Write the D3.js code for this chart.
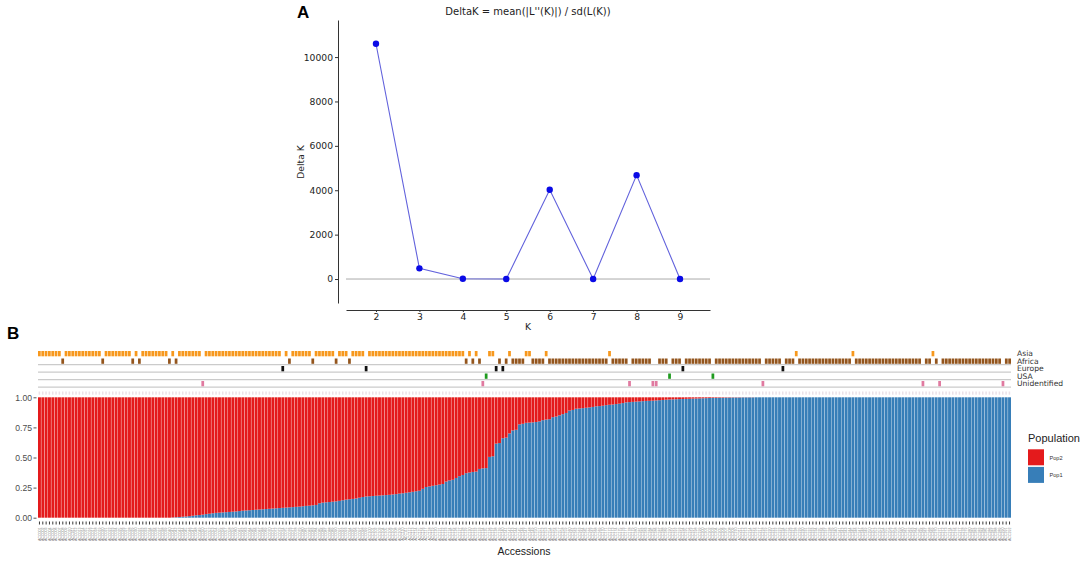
<!DOCTYPE html>
<html><head><meta charset="utf-8">
<script src="https://cdn.jsdelivr.net/npm/d3@7"></script>
<style>body{margin:0;background:#fff} svg{display:block}</style>
</head><body>
<svg id="c" width="1084" height="561"></svg>
<script>
// ---------- Panel A data ----------
const kValues = [2, 3, 4, 5, 6, 7, 8, 9];
const deltaK = [10600, 480, 15, 3, 4020, 4, 4680, 2];
const kTicks = [2, 3, 4, 5, 6, 7, 8, 9];
const deltaKTicks = [0, 2000, 4000, 6000, 8000, 10000];

// ---------- Panel B data ----------
const regions = ["Asia", "Africa", "Europe", "USA", "Unidentified"];
const regionColors = ["#f7981d", "#93551d", "#111111", "#1e9a1e", "#e07aa0"];
// region of each accession, in plot order, as [region, count] runs
const regionRuns = [
  ["Asia",7],["Africa",1],["Asia",11],["Africa",1],["Asia",8],["Africa",1],["Asia",1],["Africa",1],
  ["Asia",8],["Africa",1],["Asia",1],["Africa",1],["Asia",7],["Unidentified",1],["Asia",23],["Europe",1],
  ["Asia",1],["Africa",1],["Asia",6],["Africa",1],["Asia",6],["Africa",1],["Asia",3],["Africa",1],
  ["Asia",4],["Europe",1],["Asia",29],["Africa",1],["Asia",1],["Africa",1],["Asia",1],["Africa",1],
  ["Unidentified",1],["USA",1],["Asia",2],["Europe",1],["Africa",1],["Europe",1],["Africa",1],["Asia",1],
  ["Africa",4],["Asia",2],["Africa",4],["Asia",1],["Africa",18],["Asia",1],["Africa",5],["Unidentified",1],
  ["Africa",6],["Unidentified",2],["Africa",3],["USA",1],["Africa",3],["Europe",1],["Africa",8],["USA",1],
  ["Africa",14],["Unidentified",1],["Africa",5],["Europe",1],["Africa",3],["Asia",1],["Africa",16],["Asia",1],
  ["Africa",20],["Unidentified",1],["Africa",2],["Asia",1],["Africa",1],["Unidentified",1],["Africa",18],
  ["Unidentified",1],["Africa",2]
];
// Pop1 membership proportion of each accession (Pop2 = 1 - Pop1)
const pop1 = [
  0,0,0,0,0,0,0,0,0,0,
  0,0,0,0,0,0,0,0,0,0,
  0,0,0,0,0,0,0,0,0,0,
  0,0,0,0,0,0,0,0,0,0,
  0.002,0.004,0.006,0.008,0.01,
  0.013,0.016,0.02,0.022,0.025,
  0.03,0.033,0.037,0.04,0.042,
  0.044,0.046,0.048,0.05,0.052,
  0.055,0.058,0.06,0.062,0.064,
  0.066,0.068,0.07,0.072,0.074,
  0.076,0.078,0.08,0.082,0.084,
  0.086,0.088,0.09,0.092,0.095,
  0.098,0.1,0.103,0.106,0.12,
  0.125,0.128,0.13,0.133,0.136,
  0.14,0.145,0.15,0.153,0.156,
  0.16,0.166,0.172,0.176,0.178,
  0.18,0.182,0.184,0.186,0.188,
  0.19,0.193,0.196,0.2,0.203,
  0.207,0.211,0.215,0.22,0.224,
  0.24,0.255,0.26,0.265,0.27,
  0.275,0.28,0.3,0.31,0.315,
  0.33,0.345,0.355,0.37,0.375,
  0.38,0.383,0.405,0.41,0.412,
  0.505,0.51,0.615,0.62,0.66,
  0.665,0.7,0.725,0.73,0.775,
  0.78,0.788,0.79,0.792,0.795,
  0.8,0.81,0.815,0.818,0.835,
  0.84,0.85,0.86,0.87,0.89,
  0.895,0.905,0.907,0.91,0.913,
  0.916,0.92,0.925,0.927,0.93,
  0.935,0.938,0.94,0.944,0.947,
  0.952,0.958,0.96,0.962,0.964,
  0.966,0.968,0.97,0.971,0.972,
  0.974,0.976,0.978,0.98,0.982,
  0.983,0.984,0.985,0.986,0.987,
  0.988,0.989,0.99,0.991,0.992,
  0.993,0.994,0.995,0.995,0.996,
  0.996,0.997,0.997,0.998,0.998,
  0.998,0.999,0.999,0.999,0.999,
  1,1,1,1,1,1,1,1,1,1,1,
  1,1,1,1,1,1,1,1,1,1,1,
  1,1,1,1,1,1,1,1,1,1,1,
  1,1,1,1,1,1,1,1,1,1,1,
  1,1,1,1,1,1,1,1,1,1,1,
  1,1,1,1,1,1,1,1,1,1,1,
  1,1,1,1,1,1,1,1,1,1,1
];
const populations = ["Pop2", "Pop1"];
const popColors = ["#e41a1c", "#377eb8"];
const proportionTicks = [0, 0.25, 0.5, 0.75, 1];
const accessions = pop1.map((_, i) => "ACC" + String(i + 1).padStart(3, "0"));

const svg = d3.select("#c");

// ================= Panel A =================
const xA = d3.scaleLinear().domain([1.31, 9.69]).range([346, 710]);
const yA = d3.scaleLinear().domain([-1080, 11670]).range([303, 20]);
const fA = "DejaVu Sans, sans-serif";

svg.append("text").attr("x", 297).attr("y", 18).attr("font-family", "Liberation Sans, Arial, sans-serif")
  .attr("font-weight", "bold").attr("font-size", 17).text("A");
svg.append("text").attr("x", 528).attr("y", 14.5).attr("text-anchor", "middle")
  .attr("font-family", fA).attr("font-size", 10).attr("fill", "#222")
  .text("DeltaK = mean(|L''(K)|) / sd(L(K))");

const gyA = svg.append("g").attr("transform", "translate(338,0)")
  .call(d3.axisLeft(yA).tickValues(deltaKTicks).tickFormat(d3.format("d")).tickSize(3).tickSizeOuter(0).tickPadding(2));
const gxA = svg.append("g").attr("transform", "translate(0,310)")
  .call(d3.axisBottom(xA).tickValues(kTicks).tickSize(2).tickSizeOuter(0).tickPadding(1.5));
[gyA, gxA].forEach(g => {
  g.selectAll("path").attr("stroke", "#333").attr("stroke-width", 1);
  g.selectAll("line").attr("stroke", "#333");
  g.selectAll("text").attr("font-family", fA).attr("font-size", 9.2).attr("fill", "#222");
});
svg.append("text").attr("transform", "translate(304,162) rotate(-90)").attr("text-anchor", "middle")
  .attr("font-family", fA).attr("font-size", 9.2).attr("fill", "#222").text("Delta K");
svg.append("text").attr("x", xA(5.5)).attr("y", 330).attr("text-anchor", "middle")
  .attr("font-family", fA).attr("font-size", 9.2).attr("fill", "#222").text("K");

svg.append("line").attr("x1", 346).attr("x2", 710).attr("y1", yA(0)).attr("y2", yA(0))
  .attr("stroke", "#aaa").attr("stroke-width", 1);

const ptsA = kValues.map((k, i) => [k, deltaK[i]]);
svg.append("path").datum(ptsA)
  .attr("d", d3.line().x(d => xA(d[0])).y(d => yA(d[1])))
  .attr("fill", "none").attr("stroke", "#6262dc").attr("stroke-width", 1.1);
svg.append("g").selectAll("circle").data(ptsA).join("circle")
  .attr("cx", d => xA(d[0])).attr("cy", d => yA(d[1])).attr("r", 3.2).attr("fill", "#0a0ae6");

// ================= Panel B =================
const fB = "Liberation Sans, Arial, sans-serif";
svg.append("text").attr("x", 7).attr("y", 339).attr("font-family", fB)
  .attr("font-weight", "bold").attr("font-size", 17).text("B");

const xB = d3.scaleBand().domain(accessions).range([38, 1011]).paddingInner(0.12);
const regionOf = regionRuns.flatMap(([r, n]) => Array(n).fill(r));
const rowY = d3.scaleBand().domain(regions).range([350, 387.5]);
const regionColor = d3.scaleOrdinal().domain(regions).range(regionColors);

// row separator lines
svg.append("g").selectAll("line").data(regions.slice(1)).join("line")
  .attr("x1", 38).attr("x2", 1011)
  .attr("y1", d => rowY(d) + rowY.bandwidth() - 0.3).attr("y2", d => rowY(d) + rowY.bandwidth() - 0.3)
  .attr("stroke", "#cbcbcb").attr("stroke-width", 1.3);

const cellX = d3.scaleBand().domain(accessions).range([38, 1011]).paddingInner(0.18);
svg.append("g").selectAll("rect").data(accessions).join("rect")
  .attr("x", d => cellX(d)).attr("width", cellX.bandwidth())
  .attr("y", (d, i) => rowY(regionOf[i]) + 1).attr("height", 5.3)
  .attr("fill", (d, i) => regionColor(regionOf[i]));

svg.append("g").selectAll("text").data(regions).join("text")
  .attr("x", 1017).attr("y", d => rowY(d) + 6.2)
  .attr("font-family", "DejaVu Sans, sans-serif").attr("font-size", 7.6).attr("fill", "#333")
  .text(d => d);

// faint strip x-labels row
svg.append("g").selectAll("rect").data(accessions).join("rect")
  .attr("x", d => xB(d) + 0.6).attr("width", Math.max(0.8, xB.bandwidth() - 1.4))
  .attr("y", 391.5).attr("height", 3.2).attr("fill", "#ece2e8");

// stacked bars
const yB = d3.scaleLinear().domain([0, 1]).range([517.7, 397.3]);
const stackData = accessions.map((a, i) => ({ acc: a, Pop1: pop1[i], Pop2: 1 - pop1[i] }));
const series = d3.stack().keys(["Pop1", "Pop2"])(stackData);
const popColor = d3.scaleOrdinal().domain(populations).range(popColors);
svg.append("g").selectAll("g").data(series).join("g")
  .attr("fill", s => popColor(s.key))
  .selectAll("rect").data(s => s).join("rect")
  .attr("x", d => xB(d.data.acc)).attr("width", xB.bandwidth())
  .attr("y", d => yB(d[1])).attr("height", d => Math.max(0, yB(d[0]) - yB(d[1])));

const gyB = svg.append("g").attr("transform", "translate(36.5,0)")
  .call(d3.axisLeft(yB).tickValues(proportionTicks).tickFormat(d3.format(".2f")).tickSize(3).tickPadding(1.5));
gyB.select(".domain").remove();
gyB.selectAll("line").attr("stroke", "#555");
gyB.selectAll("text").attr("font-family", fB).attr("font-size", 8.6).attr("fill", "#4d4d4d");

// accession axis
const gxB = svg.append("g").attr("transform", "translate(0,521.5)")
  .call(d3.axisBottom(xB).tickSize(3).tickPadding(2).tickSizeOuter(0));
gxB.select(".domain").remove();
gxB.selectAll("line").attr("stroke", "#222").attr("stroke-width", 0.9);
gxB.selectAll("text").attr("font-family", fB).attr("font-size", 3.6).attr("fill", "#858585")
  .attr("text-anchor", "end").attr("dy", "0.35em")
  .attr("transform", "translate(0,6) rotate(-90)").attr("x", 0).attr("y", 0);
svg.append("text").attr("x", 524).attr("y", 555).attr("text-anchor", "middle")
  .attr("font-family", fB).attr("font-size", 10.5).attr("fill", "#222").text("Accessions");

// legend
svg.append("text").attr("x", 1028).attr("y", 441.5).attr("font-family", fB)
  .attr("font-size", 11).attr("fill", "#222").text("Population");
const lg = svg.append("g").selectAll("g").data(populations).join("g")
  .attr("transform", (d, i) => `translate(1028,${449.3 + i * 17.6})`);
lg.append("rect").attr("width", 16).attr("height", 16).attr("fill", d => popColor(d));
lg.append("text").attr("x", 21.5).attr("y", 10.5).attr("font-family", fB).attr("font-size", 5.6)
  .attr("fill", "#333").text(d => d);
</script>
</body></html>
